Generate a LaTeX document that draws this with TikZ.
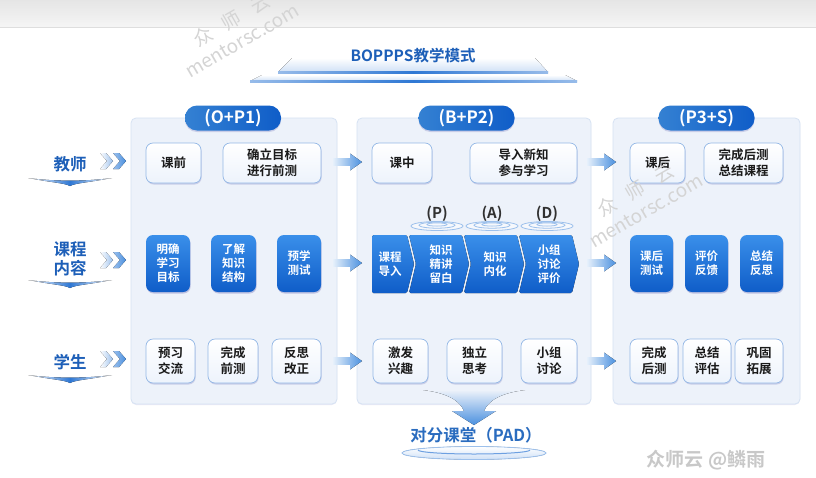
\documentclass[tikz,border=0pt]{standalone}
\usepackage{fontspec}
\setmainfont{Noto Sans CJK SC}[BoldFont={Noto Sans CJK SC Bold}]
\usetikzlibrary{shadows,calc}
\definecolor{tblue}{HTML}{1D5FB8}
\definecolor{bTop}{HTML}{3A8FEA}
\definecolor{bBot}{HTML}{0F5DC8}
\definecolor{panelfill}{HTML}{EDF2FA}
\definecolor{panelline}{HTML}{D6E2F3}
\definecolor{wline}{HTML}{94B8E6}
\definecolor{wbot}{HTML}{EDF3FC}
\definecolor{txt}{HTML}{1A1A1A}
\definecolor{arrowblue}{HTML}{4A90DF}
\definecolor{lightarrow}{HTML}{E6F0FB}
\definecolor{lineblue}{HTML}{2F78D4}
\definecolor{paleblue}{HTML}{CFE0F6}
\definecolor{ripple}{HTML}{9CC0EC}
\definecolor{wmark}{HTML}{C8C8C8}
\newcommand\mkW[6]{\node[wbox, minimum width=#4pt, minimum height=#5pt] (#1) at (#2,-#3) {#6};}
\newcommand\mkB[6]{\node[bbox, minimum width=#4pt, minimum height=#5pt] (#1) at (#2,-#3) {#6};}
\begin{document}
\begin{tikzpicture}[x=1pt,y=1pt,
  panel/.style={fill=panelfill, draw=panelline, line width=0.8pt, rounded corners=5pt,
    drop shadow={shadow xshift=0pt, shadow yshift=-1pt, opacity=0.08, fill=blue!60!black}},
  wbox/.style={draw=wline, line width=0.7pt, rounded corners=7pt, top color=white, bottom color=wbot,
    drop shadow={shadow xshift=0.6pt, shadow yshift=-1.5pt, opacity=0.15, fill=blue!50!black},
    text=txt, font=\bfseries\fontsize{12.5}{16}\selectfont, align=center, inner sep=0pt},
  bbox/.style={rounded corners=7pt, top color=bTop, bottom color=bBot, draw=none,
    drop shadow={shadow xshift=0.6pt, shadow yshift=-1.5pt, opacity=0.2, fill=blue!50!black},
    text=white, font=\bfseries\fontsize{11.5}{14}\selectfont, align=center, inner sep=0pt},
  pill/.style={rounded corners=12pt, left color=bTop!90!black, right color=bBot, draw=none,
    text=white, font=\bfseries\fontsize{17}{20}\selectfont, minimum width=96pt, minimum height=25pt, inner sep=0pt,
    drop shadow={shadow xshift=0pt, shadow yshift=-1.5pt, opacity=0.15, fill=blue!50!black}},
  chevtxt/.style={text=white, font=\bfseries\fontsize{11.5}{14}\selectfont, align=center, inner sep=0pt},
  chevshape/.style={top color=bTop, bottom color=bBot, rounded corners=1.5pt},
  sidelabel/.style={text=tblue, font=\bfseries\fontsize{16.5}{18.5}\selectfont, align=center, inner sep=0pt},
  lettr/.style={text=txt!90, font=\bfseries\fontsize{15}{18}\selectfont, inner sep=0pt},
  ripplel/.style={draw=ripple, line width=0.8pt},
  wmstyle/.style={text=black!17, align=left, inner sep=0pt, rotate=30, font=\fontsize{19}{23}\selectfont},
  fatarr/.pic={\fill[left color=lightarrow, right color=arrowblue] (0,-3.8) -- (17,-3.8) -- (17,-8.5) -- (29,0) -- (17,8.5) -- (17,3.8) -- (0,3.8) -- cycle;},
  dchev/.pic={\fill[left color=white, right color=ripple] (0,8) -- (6,8) -- (13,0) -- (6,-8) -- (0,-8) -- (7,0) -- cycle;
              \fill[left color=ripple, right color=arrowblue] (13,8) -- (19,8) -- (26,0) -- (19,-8) -- (13,-8) -- (20,0) -- cycle;},
  swoosh/.pic={\fill[left color=white, right color=white, middle color=lineblue] (-42,0) .. controls (-15,-3.5) and (15,-3.5) .. (42,0) .. controls (15,-5) and (6,-5) .. (0,-8) .. controls (-6,-5) and (-15,-5) .. (-42,0) -- cycle;},
  ripples/.pic={\fill[white, opacity=0.5] (0,0) ellipse [x radius=26, y radius=4.5];
               \draw[ripplel] (0,0) ellipse [x radius=26, y radius=4.5];
               \draw[ripplel] (0,0.8) ellipse [x radius=18, y radius=3];
               \draw[ripplel] (0,1.5) ellipse [x radius=10, y radius=1.6];}
]
\useasboundingbox (0,0) rectangle (816,-477);
\fill[white] (0,0) rectangle (816,-477);
% top grey band
\fill[top color=black!10, bottom color=black!4] (0,0) rectangle (816,-27);
\draw[black!13, line width=0.6pt] (0,-27) -- (816,-27);

% title and platform
\fill[top color=white, bottom color=paleblue] (262,-75) -- (565,-75) -- (577,-81) -- (250,-81) -- cycle;
\fill[left color=lineblue!50, right color=lineblue!50, middle color=lineblue] (250,-80) rectangle (577,-82.5);
\fill[top color=white, bottom color=paleblue] (292,-58) -- (535,-58) -- (548,-72) -- (278,-72) -- cycle;
\fill[left color=lineblue!50, right color=lineblue!50, middle color=lineblue] (278,-71) rectangle (548,-73.5);
\node[text=tblue, font=\bfseries\fontsize{15.5}{18}\selectfont, inner sep=0pt] (title) at (413,-56) {BOPPPS教学模式};

% panels
\node[panel, minimum width=206pt, minimum height=286pt, inner sep=0pt] (p1) at (234,-261) {};
\node[panel, minimum width=234pt, minimum height=286pt, inner sep=0pt] (p2) at (474,-261) {};
\node[panel, minimum width=187pt, minimum height=286pt, inner sep=0pt] (p3) at (706.5,-261) {};
\node[pill] (h1) at (233,-118) {(O+P1)};
\node[pill] (h2) at (466.5,-118) {(B+P2)};
\node[pill] (h3) at (706.5,-118) {(P3+S)};

% side labels
\node[sidelabel] (lt) at (70,-164) {教师};
\node[sidelabel] (lc) at (70,-259) {课程\\内容};
\node[sidelabel] (ls) at (70,-362) {学生};
\pic at (70,-178) {swoosh};
\pic at (70,-280) {swoosh};
\pic at (70,-375) {swoosh};
\pic at (100,-161) {dchev};
\pic at (100,-260) {dchev};
\pic at (100,-359) {dchev};

% inter-panel arrows
\foreach \yy in {162,263,361} {
  \pic at (333,-\yy) {fatarr};
  \pic at (587,-\yy) {fatarr};
}

% row 1
\mkW{a1}{173.5}{163}{55}{40}{课前}
\mkW{a2}{272}{163}{98}{40}{确立目标\\进行前测}
\mkW{a3}{402}{163}{60}{40}{课中}
\mkW{a4}{523.5}{163}{107}{40}{导入新知\\参与学习}
\mkW{a5}{657.5}{163}{55}{40}{课后}
\mkW{a6}{743.5}{163}{79}{40}{完成后测\\总结课程}

% row 2
\mkB{b1}{168}{263.5}{44}{57}{明确\\学习\\目标}
\mkB{b2}{233.5}{263.5}{45}{57}{了解\\知识\\结构}
\mkB{b3}{299}{263.5}{44}{57}{预学\\测试}
\mkB{b8}{651.5}{263.5}{43}{57}{课后\\测试}
\mkB{b9}{706.5}{263.5}{43}{57}{评价\\反馈}
\mkB{b10}{761.5}{263.5}{43}{57}{总结\\反思}

% chevrons in panel 2
\fill[chevshape] (372,-235) -- (407,-235) -- (414,-264) -- (407,-293) -- (372,-293) -- cycle;
\fill[chevshape] (409,-235) -- (462,-235) -- (469,-264) -- (462,-293) -- (409,-293) -- (416,-264) -- cycle;
\fill[chevshape] (464,-235) -- (517,-235) -- (524,-264) -- (517,-293) -- (464,-293) -- (471,-264) -- cycle;
\fill[chevshape] (519,-235) -- (572,-235) -- (579,-264) -- (572,-293) -- (519,-293) -- (526,-264) -- cycle;
\node[chevtxt] (c1) at (390,-264) {课程\\导入};
\node[chevtxt] (c2) at (441,-264) {知识\\精讲\\留白};
\node[chevtxt] (c3) at (495,-264) {知识\\内化};
\node[chevtxt] (c4) at (549,-264) {小组\\讨论\\评价};
\pic at (437,-226) {ripples};
\pic at (492,-226) {ripples};
\pic at (547,-226) {ripples};
\node[lettr] (lp) at (437,-214) {(P)};
\node[lettr] (la) at (492,-214) {(A)};
\node[lettr] (ld) at (547,-214) {(D)};

% row 3
\mkW{s1}{170.5}{361}{49}{44}{预习\\交流}
\mkW{s2}{233}{361}{50}{44}{完成\\前测}
\mkW{s3}{296.5}{361}{49}{44}{反思\\改正}
\mkW{s4}{400.5}{361}{55}{44}{激发\\兴趣}
\mkW{s5}{474.5}{361}{55}{44}{独立\\思考}
\mkW{s6}{549}{361}{56}{44}{小组\\讨论}
\mkW{s7}{654}{361}{48}{44}{完成\\后测}
\mkW{s8}{707}{361}{48}{44}{总结\\评估}
\mkW{s9}{759}{361}{48}{44}{巩固\\拓展}

% bottom funnel arrow
\fill[top color=panelfill, bottom color=arrowblue] (423,-390) .. controls (448,-393) and (460,-401) .. (464,-411) -- (452,-411) -- (474,-425) -- (496,-411) -- (484,-411) .. controls (488,-401) and (500,-393) .. (525,-390) -- cycle;
\fill[top color=white, bottom color=paleblue] (474,-453) ellipse [x radius=72, y radius=6.5];
\draw[ripple, line width=0.8pt] (474,-453) ellipse [x radius=72, y radius=6.5];
\draw[lineblue!70, line width=1pt] (418,-450) arc[start angle=180, end angle=360, x radius=56, y radius=4];
\node[text=lineblue!90!black, font=\bfseries\fontsize{16.5}{19}\selectfont, inner sep=0pt] (pad) at (476,-435) {对分课堂（PAD）};

% watermarks
\node[text=wmark, font=\bfseries\fontsize{19}{22}\selectfont, inner sep=0pt] (wm) at (706,-460) {众师云 @鳞雨};
\node[wmstyle] (wm1) at (236,-30) {\hspace{22pt}众\hspace{14pt}师\hspace{14pt}云\\\itshape mentorsc.com};
\node[wmstyle] (wm2) at (640,-200) {\hspace{22pt}众\hspace{14pt}师\hspace{14pt}云\\\itshape mentorsc.com};
\end{tikzpicture}
\end{document}
